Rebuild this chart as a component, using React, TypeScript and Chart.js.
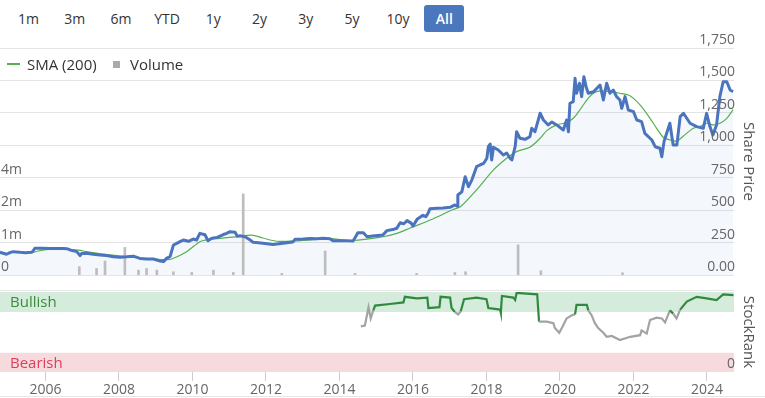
import React, { useEffect, useRef } from 'react';
import { Chart, registerables } from 'chart.js';

Chart.register(...registerables);
Chart.defaults.font.family = "'Open Sans', sans-serif";

// ---------- data ----------
const rangeButtons = ['1m', '3m', '6m', 'YTD', '1y', '2y', '3y', '5y', '10y', 'All'];
const yearTicks = [2006, 2008, 2010, 2012, 2014, 2016, 2018, 2020, 2022, 2024];
const xMin = 2004.762;
const xMax = 2024.735;
const priceTicks = [0, 250, 500, 750, 1000, 1250, 1500, 1750];
const volumeTickLabels = ['0', '1m', '2m', '4m'];
const bullishRange = [75, 100];
const bearishRange = [0, 24];

const priceDates = [
  2004.76, 2004.85, 2004.94, 2005.03, 2005.12, 2005.21, 2005.31, 2005.45, 2005.62, 2005.66,
  2005.71, 2005.9, 2006.12, 2006.3, 2006.49, 2006.58, 2006.7, 2006.85, 2006.94, 2006.98,
  2007.12, 2007.3, 2007.48, 2007.66, 2007.85, 2008.03, 2008.21, 2008.39, 2008.57, 2008.75,
  2008.93, 2009.12, 2009.21, 2009.3, 2009.39, 2009.48, 2009.57, 2009.66, 2009.75, 2009.89,
  2010.02, 2010.11, 2010.2, 2010.34, 2010.42, 2010.53, 2010.67, 2010.84, 2010.93, 2011.02,
  2011.16, 2011.22, 2011.29, 2011.43, 2011.57, 2011.65, 2011.8, 2011.92, 2012.19, 2012.46,
  2012.73, 2012.79, 2013.01, 2013.2, 2013.39, 2013.55, 2013.74, 2013.82, 2014.1, 2014.37,
  2014.45, 2014.5, 2014.65, 2014.75, 2014.9, 2015.18, 2015.29, 2015.45, 2015.56, 2015.65,
  2015.75, 2015.84, 2015.95, 2016.0, 2016.11, 2016.27, 2016.35, 2016.41, 2016.46, 2016.65,
  2016.82, 2017.01, 2017.14, 2017.2, 2017.22, 2017.28, 2017.33, 2017.42, 2017.51, 2017.6,
  2017.73, 2017.82, 2017.92, 2018.01, 2018.05, 2018.1, 2018.14, 2018.19, 2018.32, 2018.46,
  2018.55, 2018.64, 2018.69, 2018.78, 2018.82, 2018.91, 2019.05, 2019.18, 2019.23, 2019.32,
  2019.46, 2019.55, 2019.68, 2019.78, 2019.91, 2020.09, 2020.18, 2020.23, 2020.27, 2020.36,
  2020.41, 2020.45, 2020.53, 2020.59, 2020.65, 2020.71, 2020.77, 2020.91, 2021.09, 2021.18,
  2021.27, 2021.36, 2021.45, 2021.54, 2021.63, 2021.68, 2021.77, 2021.86, 2022.0, 2022.09,
  2022.22, 2022.31, 2022.5, 2022.59, 2022.72, 2022.77, 2022.83, 2022.99, 2023.08, 2023.18,
  2023.27, 2023.36, 2023.54, 2023.72, 2023.9, 2023.99, 2024.08, 2024.16, 2024.26, 2024.35,
  2024.44, 2024.54, 2024.63, 2024.71,
];
const priceValues = [
  175, 168, 160, 172, 180, 178, 175, 172, 175, 185,
  206, 207, 205, 204, 205, 203, 190, 180, 150, 165,
  167, 160, 155, 150, 141, 137, 140, 145, 128, 123,
  123, 108, 103, 130, 141, 231, 244, 257, 270, 260,
  277, 270, 321, 310, 265, 283, 290, 312, 321, 334,
  330, 298, 303, 295, 270, 252, 248, 244, 236, 245,
  254, 275, 278, 282, 280, 283, 280, 265, 265, 262,
  300, 326, 325, 295, 300, 308, 342, 350, 360, 403,
  395, 419, 400, 378, 429, 460, 450, 476, 510, 514,
  516, 522, 540, 530, 617, 630, 642, 758, 681, 732,
  835, 848, 860, 900, 989, 1010, 887, 985, 964, 925,
  940, 900, 887, 989, 1105, 1054, 1046, 1066, 1131, 1105,
  1247, 1195, 1157, 1180, 1157, 1118, 1195, 1105, 1324, 1336,
  1516, 1401, 1478, 1375, 1529, 1452, 1401, 1413, 1465, 1349,
  1478, 1401, 1426, 1375, 1349, 1285, 1375, 1272, 1259, 1195,
  1182, 1092, 1041, 989, 977, 912, 1028, 1170, 1002, 1002,
  1221, 1247, 1170, 1144, 1131, 1247, 1144, 1079, 1157, 1375,
  1490, 1490, 1426, 1413,
];

const smaDates = [
  2005.62, 2005.8, 2006.0, 2006.3, 2006.58, 2006.9, 2007.12, 2007.5, 2007.94, 2008.4,
  2008.84, 2009.3, 2009.45, 2009.84, 2010.2, 2010.39, 2010.67, 2011.1, 2011.48, 2011.65,
  2011.92, 2012.3, 2012.73, 2013.39, 2013.74, 2014.37, 2015.18, 2015.56, 2015.92, 2016.54,
  2017.09, 2017.28, 2017.55, 2017.82, 2018.19, 2018.55, 2018.82, 2019.18, 2019.46, 2019.64,
  2019.91, 2020.18, 2020.36, 2020.54, 2020.73, 2020.91, 2021.09, 2021.36, 2021.63, 2021.86,
  2022.0, 2022.22, 2022.45, 2022.63, 2022.81, 2022.99, 2023.18, 2023.36, 2023.63, 2023.81,
  2023.99, 2024.17, 2024.35, 2024.54, 2024.71,
];
const smaValues = [
  172, 185, 195, 199, 200, 192, 180, 163, 149, 135,
  126, 118, 125, 180, 257, 272, 281, 292, 305, 306,
  285, 260, 262, 275, 280, 266, 295, 321, 362, 432,
  505, 524, 600, 685, 810, 900, 951, 985, 1054, 1113,
  1157, 1175, 1208, 1272, 1349, 1401, 1419, 1413, 1401, 1388,
  1362, 1298, 1208, 1131, 1062, 1041, 1033, 1072, 1131, 1144,
  1170, 1157, 1170, 1208, 1275,
];

// volume in millions of shares
const volumeDates = [
  2006.92, 2007.39, 2007.62, 2008.16, 2008.53, 2008.75, 2009.03, 2009.48, 2009.98, 2010.57,
  2011.11, 2011.38, 2012.43, 2013.61, 2014.42, 2016.1, 2017.14, 2017.43, 2018.86, 2019.48,
  2021.7,
];
const volumeValues = [
  0.26, 0.2, 0.43, 0.85, 0.15, 0.2, 0.15, 0.1, 0.08, 0.15,
  0.08, 2.83, 0.05, 0.74, 0.05, 0.05, 0.08, 0.1, 0.93, 0.13,
  0.07,
];

const rankDates = [
  2014.58, 2014.69, 2014.79, 2014.85, 2014.92, 2014.97, 2015.37, 2015.74, 2015.78, 2016.1,
  2016.39, 2016.42, 2016.72, 2016.75, 2017.01, 2017.05, 2017.14, 2017.23, 2017.3, 2017.39,
  2017.73, 2018.0, 2018.05, 2018.37, 2018.39, 2018.42, 2018.73, 2018.78, 2018.82, 2019.09,
  2019.38, 2019.43, 2019.64, 2019.82, 2019.86, 2019.98, 2020.05, 2020.18, 2020.32, 2020.41,
  2020.45, 2020.73, 2020.77, 2020.86, 2020.95, 2021.04, 2021.18, 2021.27, 2021.41, 2021.63,
  2021.91, 2022.18, 2022.22, 2022.36, 2022.45, 2022.63, 2022.77, 2022.86, 2022.99, 2023.08,
  2023.17, 2023.27, 2023.45, 2023.72, 2023.99, 2024.26, 2024.44, 2024.72,
];
const rankValues = [
  57, 58, 81, 67, 77, 83, 85, 87, 94, 92,
  93, 80, 81, 94, 93, 80, 75, 72, 76, 91,
  93, 91, 80, 78, 74, 95, 93, 90, 99, 98,
  97, 63, 63, 61, 55, 49, 55, 67, 71, 72,
  84, 84, 77, 71, 61, 55, 49, 44, 45, 40,
  44, 46, 52, 48, 65, 68, 67, 62, 77, 73,
  67, 78, 88, 94, 92, 90, 97, 96,
];

// ---------- helpers ----------
const zip = (xs: number[], ys: number[]) => xs.map((x, i) => ({ x, y: ys[i] }));
const volumeToAxis = (v: number) => (v <= 1 ? v : 1 + Math.log2(v));

const BLUE = '#4a74bd';
const GREEN = '#55b04f';
const RANK_GREEN = '#2f8a3f';
const RANK_GREY = '#a3a3a3';

const noEdgePadding = (s: any) => {
  s.paddingTop = 0;
  s.paddingBottom = 0;
};

const bandPlugin = {
  id: 'bands',
  beforeDatasetsDraw(chart: any) {
    const { ctx, chartArea, scales } = chart;
    const y = scales.y;
    const draw = (range: number[], color: string, label: string, textColor: string) => {
      const top = y.getPixelForValue(range[1]);
      const bottom = y.getPixelForValue(range[0]);
      ctx.save();
      ctx.fillStyle = color;
      ctx.fillRect(chartArea.left, top, chartArea.right - chartArea.left, bottom - top);
      ctx.fillStyle = textColor;
      ctx.font = "15px 'Open Sans', sans-serif";
      ctx.textBaseline = 'middle';
      ctx.textAlign = 'left';
      ctx.fillText(label, chartArea.left + 10, (top + bottom) / 2 + 1);
      ctx.restore();
    };
    draw(bullishRange, '#d5ebdc', 'Bullish', '#3b8b3b');
    draw(bearishRange, '#f6dadd', 'Bearish', '#d9415a');
    ctx.save();
    ctx.strokeStyle = '#e6e6e6';
    ctx.lineWidth = 1;
    ctx.beginPath();
    ctx.moveTo(chartArea.left, chartArea.top - 1.5);
    ctx.lineTo(chartArea.right, chartArea.top - 1.5);
    ctx.stroke();
    ctx.restore();
  },
};

export default function App() {
  const priceRef = useRef<HTMLCanvasElement>(null);
  const rankRef = useRef<HTMLCanvasElement>(null);

  useEffect(() => {
    const priceChart = new Chart(priceRef.current as HTMLCanvasElement, {
      type: 'line',
      data: {
        datasets: [
          {
            type: 'line',
            label: 'Price',
            data: zip(priceDates, priceValues),
            yAxisID: 'price',
            borderColor: BLUE,
            borderWidth: 3,
            borderJoinStyle: 'round',
            pointRadius: 0,
            fill: 'origin',
            backgroundColor: 'rgba(74,116,189,0.06)',
            tension: 0,
            order: 1,
          },
          {
            type: 'line',
            label: 'SMA (200)',
            data: zip(smaDates, smaValues),
            yAxisID: 'price',
            borderColor: GREEN,
            borderWidth: 1.2,
            pointRadius: 0,
            fill: false,
            tension: 0.3,
            order: 2,
          },
          {
            type: 'bar',
            label: 'Volume',
            data: zip(volumeDates, volumeValues.map(volumeToAxis)),
            yAxisID: 'vol',
            backgroundColor: '#bdbdbd',
            barThickness: 2,
            order: 3,
          },
        ] as any,
      },
      options: {
        animation: false,
        responsive: false,
        maintainAspectRatio: false,
        layout: { padding: { top: 18, bottom: 5, left: 0, right: 0 } },
        plugins: {
          legend: { display: false },
          tooltip: { enabled: false },
          filler: { drawTime: 'beforeDatasetsDraw' },
        } as any,
        scales: {
          x: { type: 'linear', min: xMin, max: xMax, display: false, offset: false },
          price: {
            type: 'linear',
            position: 'right',
            min: 0,
            max: 1750,
            afterBuildTicks: (s: any) => {
              s.ticks = priceTicks.map((v) => ({ value: v }));
            },
            ticks: {
              z: 1,
              mirror: true,
              padding: 1,
              labelOffset: -8,
              color: '#666',
              font: { size: 14 },
              callback: (v: any) => (Number(v) === 0 ? '0.00' : Number(v).toLocaleString('en-US')),
            },
            grid: { color: '#e4e4e4', lineWidth: 1, drawTicks: false },
            border: { display: false },
            title: { display: true, text: 'Share Price', color: '#555', font: { size: 15 }, padding: { top: 8, bottom: 0 } },
            afterFit: (s: any) => {
              s.width = 31;
              noEdgePadding(s);
            },
          },
          vol: {
            type: 'linear',
            position: 'left',
            min: 0,
            max: 7,
            afterBuildTicks: (s: any) => {
              s.ticks = volumeTickLabels.map((_, i) => ({ value: i }));
            },
            ticks: {
              z: 1,
              mirror: true,
              padding: 1,
              labelOffset: -8,
              color: '#666',
              font: { size: 14 },
              callback: (v: any) => volumeTickLabels[Number(v)] ?? '',
            },
            grid: { display: false },
            border: { display: false },
            afterFit: (s: any) => {
              s.width = 0;
              noEdgePadding(s);
            },
          },
        } as any,
      },
    });

    const rankChart = new Chart(rankRef.current as HTMLCanvasElement, {
      type: 'line',
      data: {
        datasets: [
          {
            label: 'StockRank',
            data: zip(rankDates, rankValues),
            borderColor: RANK_GREY,
            borderWidth: 2.2,
            pointRadius: 0,
            tension: 0,
            fill: false,
            segment: {
              borderColor: (ctx: any) =>
                (ctx.p0.parsed.y + ctx.p1.parsed.y) / 2 >= bullishRange[0] ? RANK_GREEN : RANK_GREY,
            },
          },
        ],
      },
      options: {
        animation: false,
        responsive: false,
        maintainAspectRatio: false,
        layout: { padding: { top: 10, bottom: 0, left: 0, right: 0 } },
        plugins: { legend: { display: false }, tooltip: { enabled: false } },
        scales: {
          x: {
            type: 'linear',
            min: xMin,
            max: xMax,
            offset: false,
            afterBuildTicks: (s: any) => {
              s.ticks = yearTicks.map((v) => ({ value: v }));
            },
            ticks: {
              color: '#666',
              font: { size: 14 },
              padding: 1,
              autoSkip: false,
              maxRotation: 0,
              callback: (v: any) => String(v),
            },
            grid: { drawOnChartArea: false, drawTicks: true, tickLength: 9, color: '#cccccc' },
            border: { display: false },
            afterFit: (s: any) => {
              s.height = 26;
            },
          },
          y: {
            type: 'linear',
            position: 'right',
            min: 0,
            max: 100,
            afterBuildTicks: (s: any) => {
              s.ticks = [{ value: 0 }];
            },
            ticks: { z: 1, mirror: true, padding: 1, labelOffset: -8, color: '#666', font: { size: 14 } },
            grid: { display: false },
            border: { display: false },
            title: { display: true, text: 'StockRank', color: '#555', font: { size: 15 }, padding: { top: 8, bottom: 0 } },
            afterFit: (s: any) => {
              s.width = 31;
              noEdgePadding(s);
            },
          },
        } as any,
      },
      plugins: [bandPlugin],
    });

    return () => {
      priceChart.destroy();
      rankChart.destroy();
    };
  }, []);

  return (
    <div
      style={{
        position: 'absolute',
        left: 0,
        top: 0,
        width: 765,
        height: 398,
        background: '#fff',
        overflow: 'hidden',
        fontFamily: "'Open Sans', sans-serif",
      }}
    >
      {rangeButtons.map((b, i) => {
        const active = b === 'All';
        return (
          <div
            key={b}
            style={{
              position: 'absolute',
              left: 8.5 + i * 46.2,
              top: 5,
              width: 40,
              height: 27,
              lineHeight: '27px',
              textAlign: 'center',
              fontSize: 14,
              borderRadius: 3,
              background: active ? '#4a77bd' : 'transparent',
              color: active ? '#fff' : '#333',
              fontWeight: active ? 600 : 400,
            }}
          >
            {b}
          </div>
        );
      })}
      <canvas ref={priceRef} width={765} height={250} style={{ position: 'absolute', left: 0, top: 30 }} />
      <canvas ref={rankRef} width={765} height={116} style={{ position: 'absolute', left: 0, top: 282 }} />
      <div style={{ position: 'absolute', left: 0, top: 53, height: 22, fontSize: 15, color: '#333' }}>
        <div style={{ position: 'absolute', left: 7, top: 10, width: 13, height: 2, background: GREEN }} />
        <div style={{ position: 'absolute', left: 27, top: 0, lineHeight: '22px', whiteSpace: 'nowrap' }}>SMA (200)</div>
        <div style={{ position: 'absolute', left: 113, top: 8, width: 7, height: 7, background: '#aaa' }} />
        <div style={{ position: 'absolute', left: 130, top: 0, lineHeight: '22px', whiteSpace: 'nowrap' }}>Volume</div>
      </div>
      <div style={{ position: 'absolute', left: 0, top: 396, width: 765, height: 1, background: '#e6e6e6' }} />
    </div>
  );
}
